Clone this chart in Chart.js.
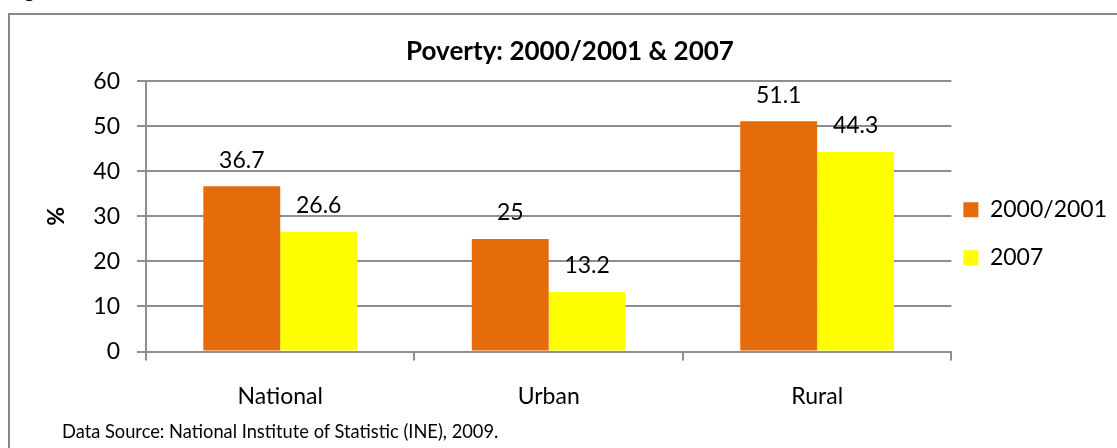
<!DOCTYPE html>
<html>
<head>
<meta charset="utf-8">
<script src="https://cdn.jsdelivr.net/npm/chart.js@4.4.0/dist/chart.umd.min.js"></script>
<style>
  html,body{margin:0;padding:0;background:#fff;overflow:hidden;width:1117px;height:448px;}
  #cap{position:absolute;left:8px;top:-20px;font:20px Lato;color:#000;line-height:20px;}
  #frame{position:absolute;left:8px;top:13px;width:1140px;height:460px;border:2px solid #888;box-sizing:border-box;}
  #src{position:absolute;left:62px;top:420px;font:18.3px Lato;color:#000;line-height:22px;}
  canvas{position:absolute;left:10px;top:15px;}
</style>
</head>
<body>
<div id="cap">Figure</div>
<div id="frame"></div>
<canvas id="povertyChart" width="1124" height="433"></canvas>
<div id="src">Data Source: National Institute of Statistic (INE), 2009.</div>
<script>
/* Poverty headcount, national / urban / rural, two survey rounds */
const categories = ['National', 'Urban', 'Rural'];
const seriesNames = ['2000/2001', '2007'];
const poverty2000 = [36.7, 25, 51.1];
const poverty2007 = [26.6, 13.2, 44.3];
const yTicks = [0, 10, 20, 30, 40, 50, 60];

const ORANGE = '#E46C0A';
const YELLOW = '#FFFF00';
const GRID = '#8e8e8e';
const FONT = 'Lato';

// value labels sitting above each bar (Excel "outside end")
const barLabels = {
  id: 'barLabels',
  afterDatasetsDraw(chart){
    const ctx = chart.ctx;
    ctx.save();
    ctx.font = '23px ' + FONT;
    ctx.fillStyle = '#000';
    ctx.textAlign = 'center';
    ctx.textBaseline = 'middle';
    chart.data.datasets.forEach((ds, i) => {
      chart.getDatasetMeta(i).data.forEach((bar, j) => {
        ctx.fillText(String(ds.data[j]), bar.x, bar.y - 26);
      });
    });
    ctx.restore();
  }
};

// pull the legend in close to the plot, like the Excel original
const legendNudge = {
  id: 'legendNudge',
  afterLayout(chart){
    const lg = chart.legend, pad = lg.options.labels.padding;
    const w = lg.width, h = lg.height;
    lg.left = chart.chartArea.right + 12 - pad;
    lg.right = lg.left + w;
    lg.top = chart.chartArea.top + 117 - pad;
    lg.bottom = lg.top + h;
  }
};

new Chart(document.getElementById('povertyChart'), {
  type: 'bar',
  data: {
    labels: categories,
    datasets: [
      { label: seriesNames[0], data: poverty2000, backgroundColor: ORANGE,
        categoryPercentage: 0.573, barPercentage: 1 },
      { label: seriesNames[1], data: poverty2007, backgroundColor: YELLOW,
        categoryPercentage: 0.573, barPercentage: 1 }
    ]
  },
  options: {
    responsive: false,
    animation: false,
    layout: { padding: { left: 0, right: 4, top: 0, bottom: 0 } },
    plugins: {
      title: {
        display: true, text: 'Poverty: 2000/2001 & 2007', color: '#000',
        font: { family: FONT, size: 26, weight: 'bold' },
        padding: { top: 21, bottom: 14 }
      },
      legend: {
        position: 'right', align: 'start',
        labels: { color: '#000', font: { family: FONT, size: 23 },
                  boxWidth: 15, boxHeight: 15, padding: 25 }
      },
      tooltip: { enabled: false }
    },
    scales: {
      x: {
        grid: { drawOnChartArea: false, offset: true, tickLength: 9, color: GRID, lineWidth: 2 },
        border: { color: GRID, width: 2 },
        ticks: { color: '#000', font: { family: FONT, size: 23 }, padding: 22 },
        afterFit(s){ s.height = 96.5; }
      },
      y: {
        min: yTicks[0], max: yTicks[yTicks.length - 1],
        ticks: { stepSize: yTicks[1] - yTicks[0], color: '#000',
                 font: { family: FONT, size: 23 }, padding: 17 },
        grid: { tickLength: 9, color: GRID, lineWidth: 2 },
        border: { color: GRID, width: 2 },
        title: { display: true, text: '%', color: '#000',
                 font: { family: FONT, size: 23, weight: 'bold' },
                 padding: { top: 33, bottom: 0 } },
        afterFit(s){ s.width = 136; }
      }
    }
  },
  plugins: [barLabels, legendNudge]
});
</script>
</body>
</html>
